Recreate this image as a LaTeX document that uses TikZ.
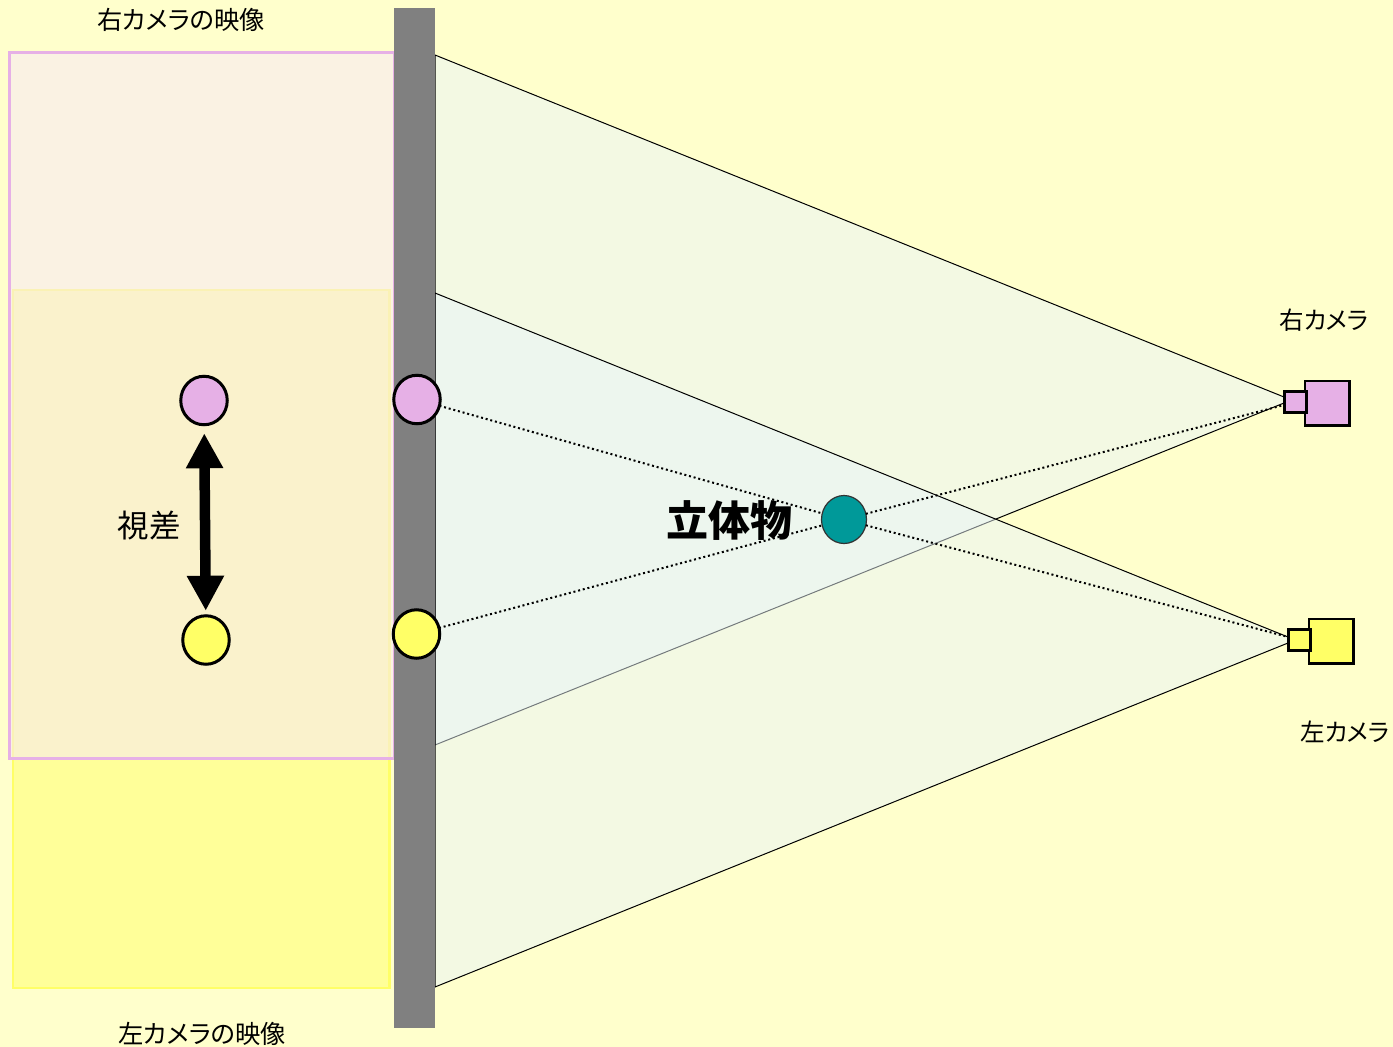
\documentclass[tikz,border=0pt]{standalone}
\usepackage{fontspec}
\setmainfont{Noto Sans CJK JP}[RawFeature=+palt]
\usetikzlibrary{arrows.meta,shapes.geometric}
\definecolor{bgc}{HTML}{FFFFCC}
\definecolor{pinkc}{HTML}{E6B0E6}
\definecolor{yelc}{HTML}{FFFF66}
\definecolor{yelfill}{HTML}{FFFF99}
\definecolor{veil}{HTML}{F7E8F6}
\definecolor{cone}{HTML}{E9F5FA}
\definecolor{teal}{HTML}{009999}
\definecolor{wall}{HTML}{808080}
\tikzset{
  x=1pt,y=-1pt,
  every node/.style={inner sep=0pt,outer sep=0pt},
  dot/.style={ellipse,draw=black,line width=3pt,minimum width=46.5pt,minimum height=48.5pt},
  pinkfill/.style={fill=pinkc},
  yelfilled/.style={fill=yelc},
  objdot/.style={ellipse,draw=black!80,line width=1.2pt,fill=teal,minimum width=45pt,minimum height=48pt},
  body/.style={rectangle,draw=black,line width=2.2pt,minimum size=44.8pt},
  lens/.style={rectangle,draw=black,line width=3pt,minimum width=21.5pt,minimum height=20.5pt},
  conefill/.style={fill=cone,fill opacity=.5,draw=black,line width=1pt},
  sight/.style={draw=black,line width=2pt,dash pattern=on 2pt off 2.8pt},
  lbl/.style={text=black,font=\fontsize{25.3}{28}\selectfont},
  camlbl/.style={text=black,font=\fontsize{24.5}{28}\selectfont},
  big/.style={text=black,font=\fontsize{31.5}{36}\selectfont},
  huge/.style={text=black,font=\fontsize{42}{48}\selectfont\bfseries},
  parallax/.style={line width=10.5pt,{Triangle[width=35pt,length=35pt]}-{Triangle[width=35pt,length=35pt]},shorten <=8.5pt,shorten >=5pt}
}
\begin{document}
\begin{tikzpicture}
\useasboundingbox (0,0) rectangle (1393,1047);
\fill[bgc] (0,0) rectangle (1393,1047);
% left images
\path[fill=yelfill,draw=yelc,line width=2.5pt] (13,290) rectangle (389.5,988);
\path[fill=veil,fill opacity=.55,draw=pinkc,line width=3pt] (9,52) rectangle (394,758);
% view cones
\path[conefill] (435,55) -- (1284,397) -- (1284,403) -- (435,745) -- cycle;
\path[conefill] (435,293) -- (1288,637) -- (1288,643) -- (435,987) -- cycle;
% screen
\fill[wall] (394,8) rectangle (435,1028);
% nodes
\node[body,pinkfill] (bodyR) at (1327,403) {};
\node[lens,pinkfill] (lensR) at (1295.7,402) {};
\node[body,yelfilled] (bodyL) at (1331,641) {};
\node[lens,yelfilled] (lensL) at (1299.7,640) {};
\node[dot,pinkfill] (screenP) at (417,399.5) {};
\node[dot,yelfilled] (screenY) at (416.5,634) {};
\node[dot,pinkfill] (imgP) at (204,400.5) {};
\node[dot,yelfilled] (imgY) at (206,640) {};
\node[objdot] (obj) at (844,519.5) {};
% sight lines and parallax
\draw[sight] (screenP) -- (obj);
\draw[sight] (obj) -- (lensL);
\draw[sight] (screenY) -- (obj);
\draw[sight] (obj) -- (lensR);
\draw[parallax] (imgP) -- (imgY);
% labels
\node[lbl] (t1) at (181,20) {右カメラの映像};
\node[lbl] (t2) at (202,1034) {左カメラの映像};
\node[camlbl] (t3) at (1324,320) {右カメラ};
\node[camlbl] (t4) at (1345,732) {左カメラ};
\node[big] (t5) at (149,526) {視差};
\node[huge] (t6) at (729,521) {立体物};
\end{tikzpicture}
\end{document}
